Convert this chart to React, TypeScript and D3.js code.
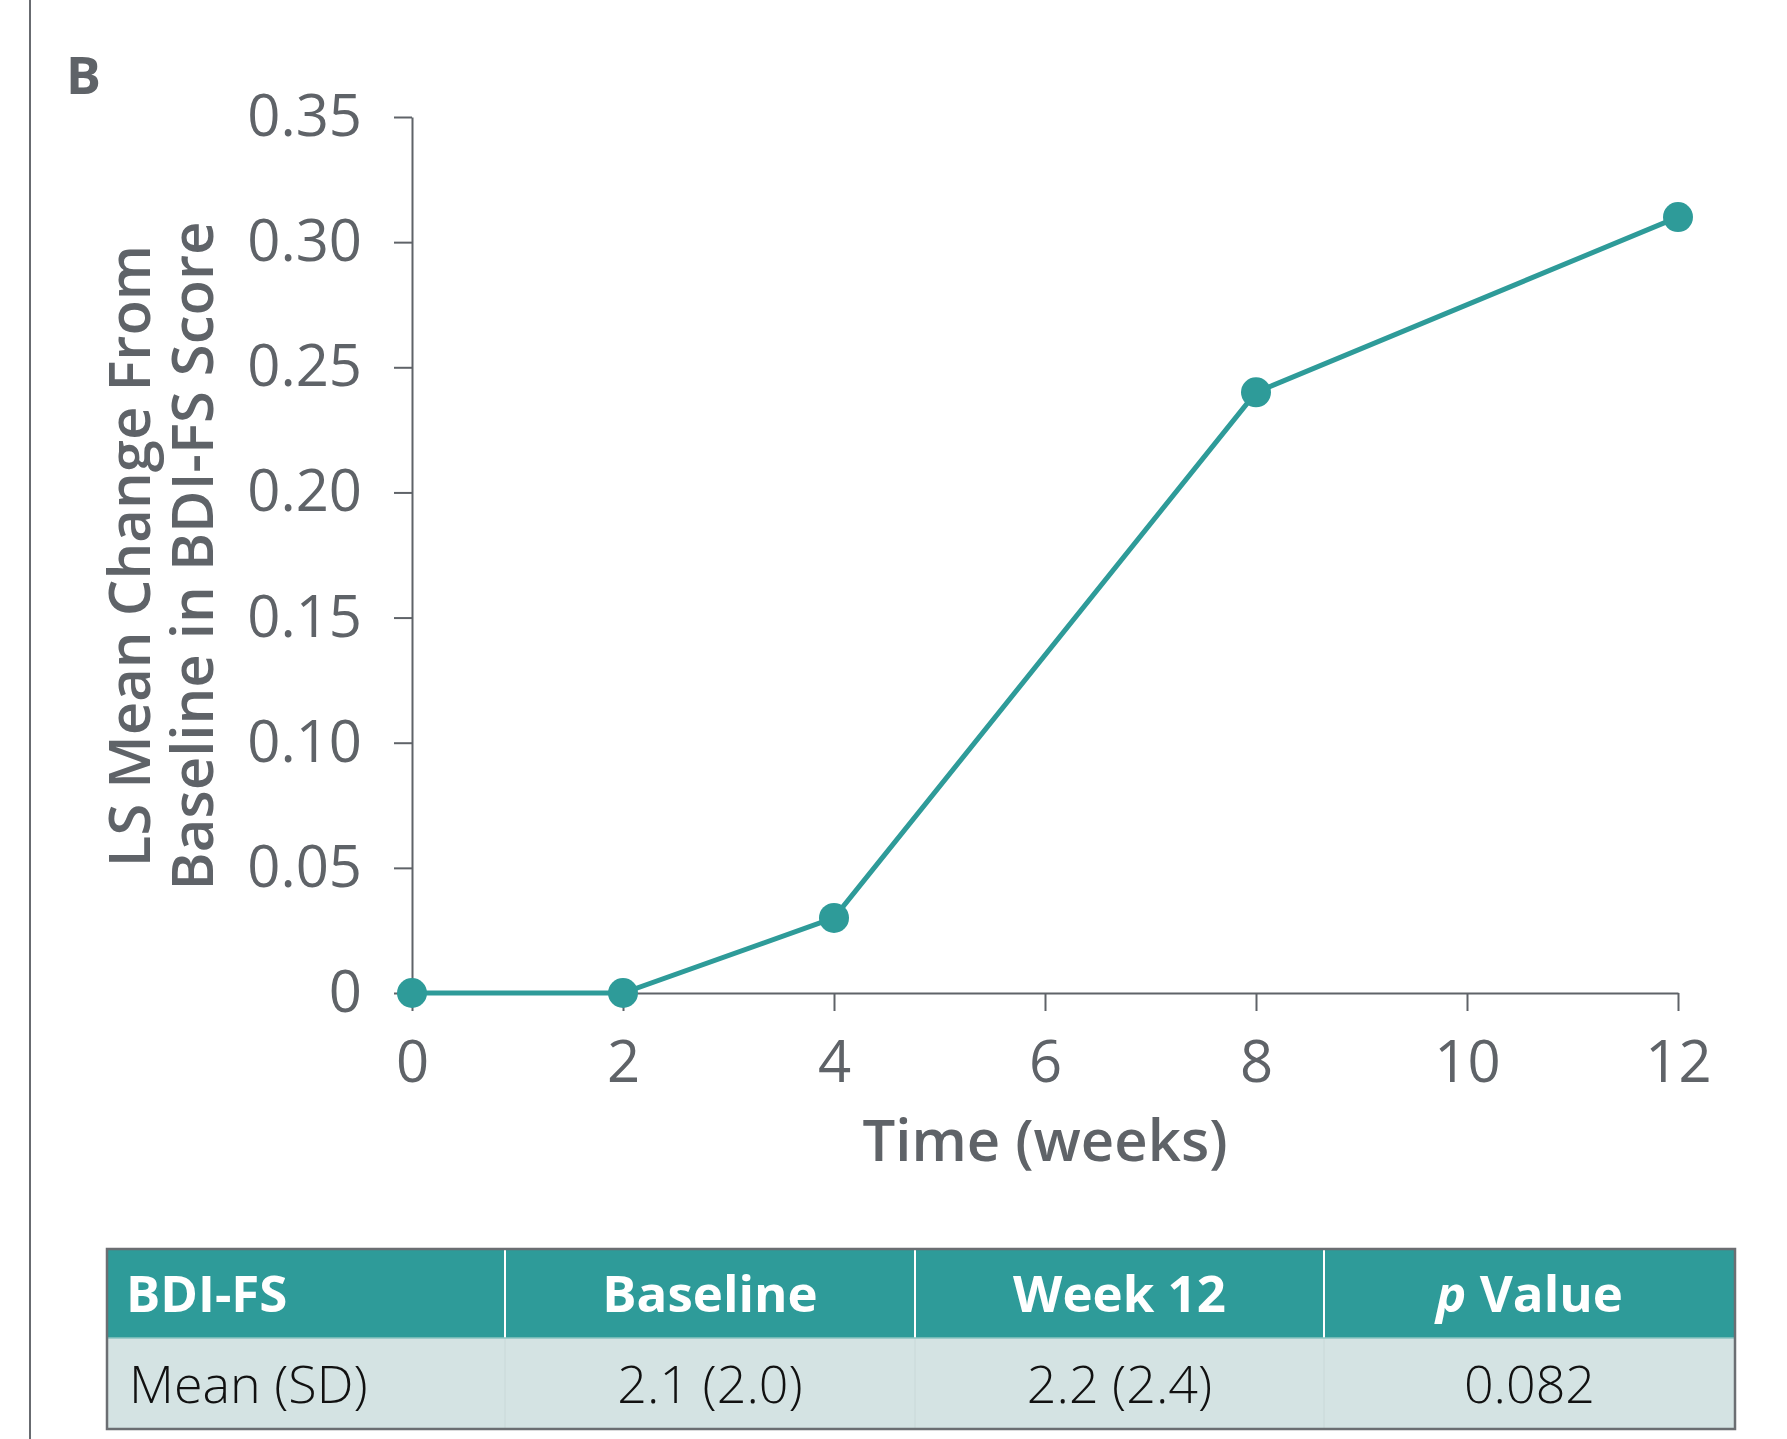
import React, { useEffect, useRef } from "react";
import * as d3 from "d3";

// chart data
const weeks = [0, 2, 4, 8, 12];
const lsMeanChange = [0, 0, 0.03, 0.24, 0.31];
const xTicks = [0, 2, 4, 6, 8, 10, 12];
const yTicks = [0, 0.05, 0.1, 0.15, 0.2, 0.25, 0.3, 0.35];

// summary table under the plot
const tableHeaders = ["BDI-FS", "Baseline", "Week 12", "p Value"];
const tableRow = ["Mean (SD)", "2.1 (2.0)", "2.2 (2.4)", "0.082"];

const W = 1787;
const H = 1439;
const teal = "#2e9b99";
const gray = "#5f6368";
const font = "'Open Sans', sans-serif";

export default function App() {
  const ref = useRef<SVGSVGElement>(null);

  useEffect(() => {
    const svg = d3.select(ref.current);
    svg.selectAll("*").remove();

    const x = d3.scaleLinear().domain([0, 12]).range([412, 1678]);
    const y = d3.scaleLinear().domain([0, 0.35]).range([993, 117]);

    // left frame line
    svg.append("line")
      .attr("x1", 30).attr("x2", 30).attr("y1", 0).attr("y2", H)
      .attr("stroke", "#686b70").attr("stroke-width", 2);

    svg.append("text")
      .attr("x", 66).attr("y", 94)
      .attr("font-family", font).attr("font-weight", 700).attr("font-size", 52)
      .attr("fill", gray)
      .text("B");

    const styleAxis = (g: any) => {
      g.selectAll("path, line").attr("stroke", gray).attr("stroke-width", 2);
      g.selectAll("text")
        .attr("fill", gray)
        .attr("font-family", font)
        .attr("font-size", 58);
    };

    svg.append("g")
      .attr("transform", `translate(0,${y(0)})`)
      .call(d3.axisBottom(x).tickValues(xTicks).tickSize(18).tickSizeOuter(0).tickPadding(30).tickFormat(d3.format("d")))
      .call(styleAxis);

    svg.append("g")
      .attr("transform", `translate(${x(0)},0)`)
      .call(d3.axisLeft(y).tickValues(yTicks).tickSize(18).tickSizeOuter(0).tickPadding(32)
        .tickFormat((d: any) => (d === 0 ? "0" : d3.format(".2f")(d))))
      .call(styleAxis);

    // axis titles
    svg.append("text")
      .attr("x", 1045).attr("y", 1161)
      .attr("text-anchor", "middle")
      .attr("font-family", font).attr("font-weight", 600).attr("font-size", 58)
      .attr("fill", gray)
      .text("Time (weeks)");

    const yTitle = svg.append("text")
      .attr("transform", "translate(0,556) rotate(-90)")
      .attr("text-anchor", "middle")
      .attr("font-family", font).attr("font-weight", 600).attr("font-size", 58)
      .attr("fill", gray);
    yTitle.append("tspan").attr("x", 0).attr("y", 150).text("LS Mean Change From");
    yTitle.append("tspan").attr("x", 0).attr("y", 213).text("Baseline in BDI-FS Score");

    const pts = weeks.map((w, i) => [w, lsMeanChange[i]] as [number, number]);
    const line = d3.line<[number, number]>().x(d => x(d[0])).y(d => y(d[1]));

    svg.append("path")
      .datum(pts)
      .attr("d", line)
      .attr("fill", "none")
      .attr("stroke", teal)
      .attr("stroke-width", 5);

    svg.append("g")
      .selectAll("circle")
      .data(pts)
      .join("circle")
      .attr("cx", d => x(d[0]))
      .attr("cy", d => y(d[1]))
      .attr("r", 15)
      .attr("fill", teal);

    // table
    const colEdges = [107, 505, 915, 1324, 1735];
    const top = 1249, mid = 1338, bottom = 1429;
    const t = svg.append("g");
    t.append("rect")
      .attr("x", colEdges[0]).attr("y", top)
      .attr("width", colEdges[4] - colEdges[0]).attr("height", mid - top)
      .attr("fill", teal);
    t.append("rect")
      .attr("x", colEdges[0]).attr("y", mid)
      .attr("width", colEdges[4] - colEdges[0]).attr("height", bottom - mid)
      .attr("fill", "#d4e3e3");
    colEdges.slice(1, 4).forEach(cx => {
      t.append("line").attr("x1", cx).attr("x2", cx).attr("y1", top).attr("y2", mid)
        .attr("stroke", "#ffffff").attr("stroke-width", 2);
      t.append("line").attr("x1", cx).attr("x2", cx).attr("y1", mid).attr("y2", bottom)
        .attr("stroke", "#c9d8d8").attr("stroke-width", 1);
    });
    t.append("line").attr("x1", colEdges[0]).attr("x2", colEdges[4]).attr("y1", mid).attr("y2", mid)
      .attr("stroke", "#8cc4c2").attr("stroke-width", 1.5);
    t.append("rect")
      .attr("x", colEdges[0]).attr("y", top)
      .attr("width", colEdges[4] - colEdges[0]).attr("height", bottom - top)
      .attr("fill", "none").attr("stroke", "#6b6e72").attr("stroke-width", 2.5);

    tableHeaders.forEach((h, i) => {
      const first = i === 0;
      const tx = t.append("text")
        .attr("x", first ? 126 : (colEdges[i] + colEdges[i + 1]) / 2)
        .attr("y", 1312)
        .attr("text-anchor", first ? "start" : "middle")
        .attr("font-family", font).attr("font-weight", 700).attr("font-size", 51)
        .attr("fill", "#ffffff");
      if (h.startsWith("p ")) {
        tx.append("tspan").attr("font-style", "italic").text("p");
        tx.append("tspan").text(" " + h.slice(2));
      } else {
        tx.text(h);
      }
    });

    tableRow.forEach((v, i) => {
      const first = i === 0;
      t.append("text")
        .attr("x", first ? 129 : (colEdges[i] + colEdges[i + 1]) / 2)
        .attr("y", 1403)
        .attr("text-anchor", first ? "start" : "middle")
        .attr("font-family", font).attr("font-weight", 300).attr("font-size", 52)
        .attr("fill", "#111111")
        .text(v);
    });
  }, []);

  return (
    <svg
      ref={ref}
      width={W}
      height={H}
      viewBox={`0 0 ${W} ${H}`}
      style={{ position: "absolute", left: 0, top: 0, background: "#ffffff" }}
    />
  );
}
